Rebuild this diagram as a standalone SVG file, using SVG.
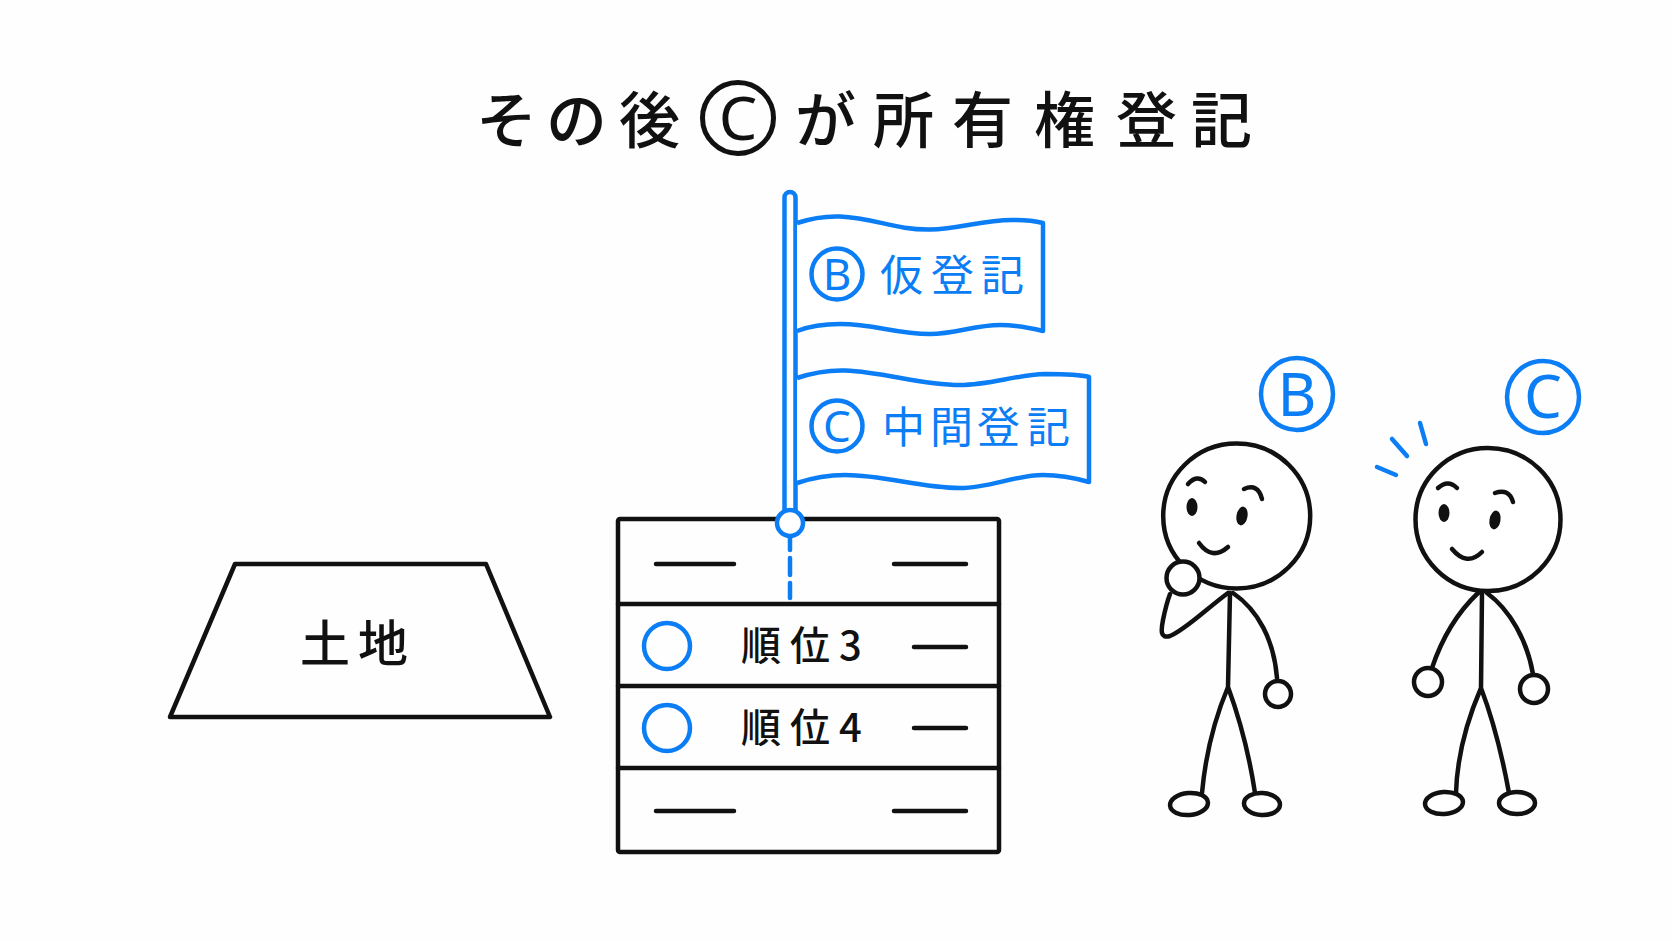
<svg xmlns="http://www.w3.org/2000/svg" width="1672" height="941" viewBox="0 0 1672 941">
<style>
  text { font-family: "Noto Sans CJK JP", "Noto Sans", sans-serif; fill: #111; font-weight: 500; }
  .ink { fill: none; stroke: #111; stroke-width: 4.5; stroke-linecap: round; stroke-linejoin: round; }
  .ink-fill { fill: #fff; stroke: #111; stroke-width: 4.5; }
  .blue { fill: none; stroke: #0b7df5; stroke-width: 4.5; stroke-linecap: round; stroke-linejoin: round; }
  .blue-fill { fill: #fff; stroke: #0b7df5; stroke-width: 4.5; stroke-linejoin: round; }
  text.blue-text { fill: #0b7df5; font-weight: 400; }
  .eye { fill: #111; }
  .title { font-size: 61px; }
  .flag-label { font-size: 43px; }
  .row-label { font-size: 40px; }
  .mark { font-size: 44px; font-family: "Noto Sans", sans-serif; text-anchor: middle; }
  .mark-big { font-size: 60px; font-family: "Noto Sans", sans-serif; text-anchor: middle; }
</style>
<rect width="1672" height="941" fill="#fefefe"/>

<g id="title">
  <text class="title" y="143" x="476 546 619">その後</text>
  <circle cx="738" cy="118" r="35.5" fill="none" stroke="#111" stroke-width="5"/>
  <text class="title" style="font-family:'Noto Sans',sans-serif;text-anchor:middle;font-weight:400" x="738" y="140">C</text>
  <text class="title" y="143" x="795 873 952 1034 1116 1191">が所有権登記</text>
</g>

<g id="land">
  <path class="ink" d="M235 564 H486 L550 717 H170 Z"/>
  <text style="font-size:50px" y="662" x="300 358">土地</text>
</g>

<g id="connectors">
  <path class="blue" d="M790 537 V550 M790 558 V575 M790 583 V598"/>
</g>

<g id="register">
  <rect class="ink" x="618" y="519" width="381" height="333" rx="2"/>
  <path class="ink" d="M618 604 H999 M618 686 H999 M618 768 H999"/>
  <path class="ink" d="M656 564 H734 M894 564 H966 M914 647 H966 M914 728 H966 M656 811 H734 M894 811 H966"/>
  <circle class="blue" cx="667" cy="646" r="23"/>
  <circle class="blue" cx="667" cy="728" r="23"/>
  <text class="row-label" y="660" x="741 790 839">順位3</text>
  <text class="row-label" y="742" x="741 790 839">順位4</text>
</g>

<g id="flag-pole">
  <rect class="blue-fill" x="784.5" y="192" width="11" height="330" rx="5.5"/>
  <circle class="blue-fill" cx="790" cy="523" r="13"/>
</g>

<g id="flag-b">
  <path class="blue-fill" d="M797 223 C812 218 825 216 840 216.5 C875 218 895 230 930 229.5 C960 229 985 219 1015 220 C1025 220 1035 221 1043 223 V331 C1030 328 1015 325 1000 325 C975 325 955 334 930 334 C895 334 875 324 840 324 C825 324 810 326 797 331"/>
  <circle class="blue" cx="837" cy="274" r="25.5"/>
  <text class="mark blue-text" x="837" y="290">B</text>
  <text class="flag-label blue-text" y="291" x="880 931 981">仮登記</text>
</g>

<g id="flag-c">
  <path class="blue-fill" d="M797 378 C812 373 828 370 845 370.5 C885 372 920 385 960 385 C990 385 1015 375 1045 374 C1060 374 1078 374 1089 377 V482 C1075 478 1060 475 1043 475 C1015 475 990 488 960 488 C920 488 885 475 845 475 C828 475 812 478 797 483"/>
  <circle class="blue" cx="837" cy="426" r="25.5"/>
  <text class="mark blue-text" x="837" y="442">C</text>
  <text class="flag-label blue-text" y="443" x="882 930 977 1027">中間登記</text>
</g>

<g id="person-b">
  <ellipse class="ink-fill" cx="1236.7" cy="516" rx="73.5" ry="72.5"/>
  <path class="ink" d="M1188 484 Q1197 474 1205 482 M1244 489 Q1258 483 1262 499"/>
  <ellipse class="eye" cx="1192" cy="507" rx="5.5" ry="9"/>
  <ellipse class="eye" cx="1242" cy="516" rx="5.5" ry="9.5" transform="rotate(10 1242 516)"/>
  <path class="ink" d="M1199 543 Q1212 561 1228 547"/>
  <path class="ink" d="M1230 593 L1228 687 M1228 593 C1205 610 1185 630 1170 636 C1160 639 1161 630 1163 620 C1165 610 1167 602 1170 594 M1233 593 C1258 610 1274 640 1277 678 M1228 687 C1212 725 1205 760 1202 793 M1228 687 C1242 725 1250 760 1255 793"/>
  <circle class="ink-fill" cx="1183" cy="578" r="16.5"/>
  <circle class="ink-fill" cx="1278" cy="694" r="13"/>
  <ellipse class="ink-fill" cx="1189" cy="804" rx="19" ry="11" transform="rotate(-5 1189 804)"/>
  <ellipse class="ink-fill" cx="1262" cy="804" rx="18" ry="11" transform="rotate(3 1262 804)"/>
  <circle class="blue" cx="1297" cy="394" r="36"/>
  <text class="mark-big blue-text" x="1297" y="416">B</text>
</g>

<g id="person-c">
  <ellipse class="ink-fill" cx="1488" cy="519.5" rx="72.5" ry="71.5"/>
  <path class="ink" d="M1438 488 Q1448 479 1457 488 M1495 493 Q1509 488 1513 502"/>
  <ellipse class="eye" cx="1444" cy="513" rx="5.5" ry="9"/>
  <ellipse class="eye" cx="1495" cy="520" rx="5.5" ry="9.5" transform="rotate(10 1495 520)"/>
  <path class="ink" d="M1452 549 Q1467 567 1482 552"/>
  <path class="ink" d="M1482 593 L1481 688 M1478 593 C1458 612 1442 638 1432 668 M1487 593 C1510 610 1527 640 1533 674 M1481 688 C1465 725 1457 760 1456 793 M1481 688 C1495 725 1503 760 1509 793"/>
  <circle class="ink-fill" cx="1428" cy="682" r="14"/>
  <circle class="ink-fill" cx="1534" cy="689" r="14"/>
  <ellipse class="ink-fill" cx="1444" cy="803" rx="19" ry="11" transform="rotate(-4 1444 803)"/>
  <ellipse class="ink-fill" cx="1517" cy="803" rx="18" ry="11"/>
  <path class="blue" d="M1377 467 L1396 475 M1392 439 L1407 456 M1420 423 L1426 444"/>
  <circle class="blue" cx="1543" cy="397" r="36"/>
  <text class="mark-big blue-text" x="1543" y="418">C</text>
</g>
</svg>
